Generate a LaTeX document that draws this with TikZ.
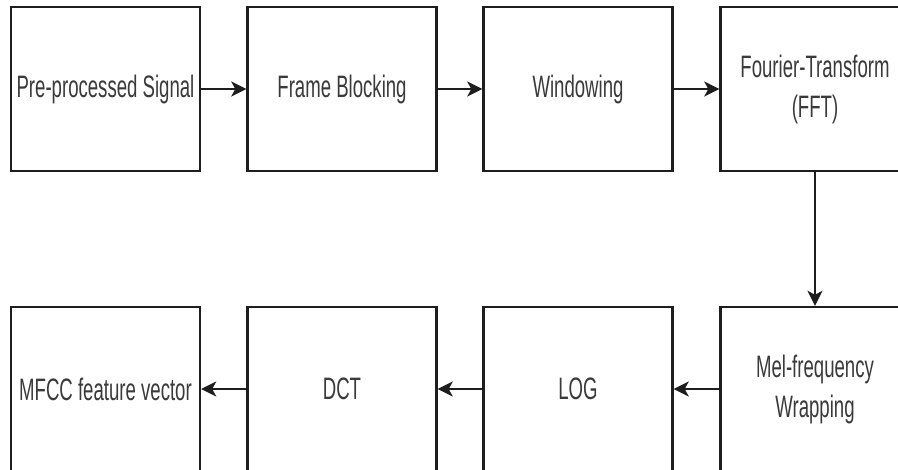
\documentclass[tikz,border=0pt]{standalone}
\usepackage{fontspec}
\newfontfamily\boxfont{Liberation Sans}[FakeStretch=0.6]
\usetikzlibrary{arrows.meta}
\definecolor{linec}{HTML}{1E1E1E}
\definecolor{textc}{HTML}{3A3A3A}
\begin{document}
\begin{tikzpicture}[x=1pt,y=-1pt,
  stage/.style={draw=linec, line width=2.4pt, fill=white, minimum width=189pt, minimum height=164pt,
    inner sep=0pt, align=center, text=textc, font=\boxfont\fontsize{31}{40}\selectfont},
  flow/.style={draw=linec, line width=2.4pt, -{Stealth[length=15pt,width=15pt,inset=4pt]}}]
\clip (0,0) rectangle (898,470);
\node[stage] (pre)  at (105.5,89) {Pre-processed Signal};
\node[stage] (fb)   at (342,89)   {Frame Blocking};
\node[stage] (win)  at (578,89)   {Windowing};
\node[stage] (fft)  at (815,89)   {Fourier-Transform\\(FFT)};
\node[stage] (mel)  at (815,389)  {Mel-frequency\\Wrapping};
\node[stage] (log)  at (578,389)  {LOG};
\node[stage] (dct)  at (342,389)  {DCT};
\node[stage] (mfcc) at (105.5,389){MFCC feature vector};
\draw[flow] (pre) -- (fb);
\draw[flow] (fb) -- (win);
\draw[flow] (win) -- (fft);
\draw[flow] (fft) -- (mel);
\draw[flow] (mel) -- (log);
\draw[flow] (log) -- (dct);
\draw[flow] (dct) -- (mfcc);
\end{tikzpicture}
\end{document}
